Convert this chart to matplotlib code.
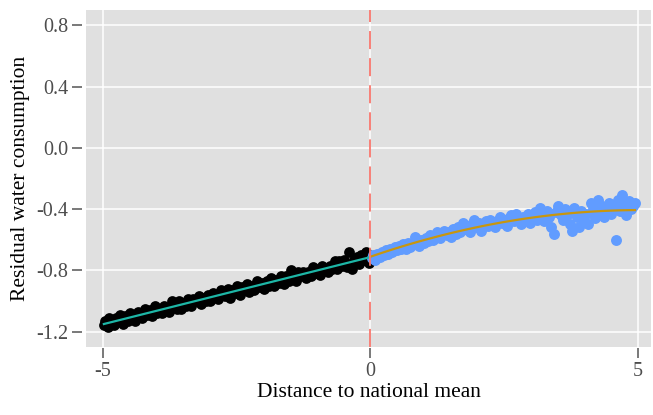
import numpy as np
import matplotlib.pyplot as plt

# points below the national mean (black)
x_below = [-4.98, -4.95, -4.91, -4.88, -4.84, -4.80, -4.76, -4.71, -4.67, -4.62,
           -4.58, -4.53, -4.49, -4.44, -4.40, -4.35, -4.31, -4.26, -4.22, -4.17,
           -4.12, -4.08, -4.03, -3.99, -3.94, -3.90, -3.85, -3.81, -3.76, -3.71,
           -3.67, -3.62, -3.58, -3.53, -3.49, -3.44, -3.40, -3.35, -3.31, -3.26,
           -3.21, -3.17, -3.12, -3.08, -3.03, -2.99, -2.94, -2.90, -2.85, -2.80,
           -2.76, -2.71, -2.67, -2.62, -2.58, -2.53, -2.49, -2.44, -2.40, -2.35,
           -2.31, -2.26, -2.21, -2.17, -2.12, -2.08, -2.03, -1.99, -1.94, -1.90,
           -1.85, -1.80, -1.76, -1.71, -1.67, -1.62, -1.58, -1.53, -1.49, -1.44,
           -1.40, -1.35, -1.31, -1.26, -1.21, -1.17, -1.12, -1.08, -1.03, -0.99,
           -0.94, -0.90, -0.85, -0.80, -0.76, -0.71, -0.67, -0.62, -0.58, -0.53,
           -0.49, -0.44, -0.40, -0.35, -0.31, -0.26, -0.22, -0.17, -0.13, -0.08,
           -0.04, -0.02]
y_below = [-1.16, -1.13, -1.17, -1.11, -1.14, -1.16, -1.11, -1.13, -1.09, -1.15,
           -1.10, -1.13, -1.08, -1.11, -1.13, -1.07, -1.09, -1.11, -1.05, -1.09,
           -1.06, -1.10, -1.03, -1.08, -1.05, -1.08, -1.03, -1.05, -1.07, -1.00,
           -1.03, -1.05, -1.00, -1.05, -1.01, -1.03, -0.99, -1.03, -0.99, -1.00,
           -0.97, -1.02, -0.98, -1.00, -0.96, -1.00, -0.95, -0.97, -0.99, -0.93,
           -0.95, -0.97, -0.92, -0.98, -0.93, -0.95, -0.90, -0.96, -0.91, -0.93,
           -0.89, -0.94, -0.90, -0.93, -0.87, -0.91, -0.88, -0.92, -0.87, -0.90,
           -0.85, -0.90, -0.86, -0.88, -0.84, -0.89, -0.84, -0.87, -0.80, -0.83,
           -0.87, -0.81, -0.84, -0.81, -0.85, -0.81, -0.84, -0.78, -0.82, -0.79,
           -0.83, -0.77, -0.79, -0.81, -0.77, -0.79, -0.74, -0.79, -0.74, -0.77,
           -0.73, -0.78, -0.68, -0.79, -0.73, -0.71, -0.76, -0.70, -0.73, -0.68,
           -0.71, -0.75]

# points above the national mean (blue)
x_above = [0.02, 0.05, 0.09, 0.13, 0.17, 0.21, 0.25, 0.29, 0.33, 0.37,
           0.41, 0.45, 0.49, 0.53, 0.57, 0.61, 0.66, 0.70, 0.74, 0.78,
           0.83, 0.87, 0.91, 0.95, 1.00, 1.04, 1.08, 1.12, 1.17, 1.21,
           1.25, 1.30, 1.34, 1.38, 1.42, 1.47, 1.51, 1.55, 1.60, 1.64,
           1.68, 1.73, 1.77, 1.81, 1.86, 1.90, 1.94, 1.98, 2.03, 2.07,
           2.11, 2.16, 2.20, 2.24, 2.29, 2.33, 2.37, 2.42, 2.46, 2.50,
           2.55, 2.59, 2.63, 2.68, 2.72, 2.76, 2.81, 2.85, 2.89, 2.94,
           2.98, 3.02, 3.07, 3.11, 3.16, 3.20, 3.24, 3.29, 3.33, 3.37,
           3.42, 3.46, 3.50, 3.55, 3.59, 3.63, 3.68, 3.72, 3.76, 3.81,
           3.85, 3.89, 3.94, 3.98, 4.02, 4.07, 4.11, 4.15, 4.20, 4.24,
           4.28, 4.33, 4.37, 4.41, 4.46, 4.50, 4.55, 4.58, 4.62, 4.66,
           4.70, 4.74, 4.78, 4.82, 4.86, 4.90, 4.94]
y_above = [-0.72, -0.70, -0.73, -0.69, -0.71, -0.68, -0.70, -0.67, -0.69, -0.66,
           -0.68, -0.65, -0.67, -0.64, -0.66, -0.63, -0.66, -0.62, -0.65, -0.63,
           -0.58, -0.61, -0.64, -0.60, -0.62, -0.59, -0.61, -0.57, -0.60, -0.58,
           -0.55, -0.59, -0.56, -0.54, -0.57, -0.55, -0.58, -0.53, -0.56, -0.52,
           -0.55, -0.49, -0.53, -0.51, -0.55, -0.50, -0.47, -0.52, -0.49, -0.54,
           -0.50, -0.48, -0.51, -0.47, -0.50, -0.52, -0.48, -0.45, -0.49, -0.47,
           -0.51, -0.46, -0.44, -0.48, -0.43, -0.46, -0.50, -0.45, -0.47, -0.43,
           -0.49, -0.45, -0.42, -0.47, -0.39, -0.44, -0.48, -0.41, -0.45, -0.52,
           -0.56, -0.42, -0.38, -0.44, -0.47, -0.40, -0.43, -0.50, -0.54, -0.39,
           -0.45, -0.52, -0.41, -0.48, -0.43, -0.50, -0.36, -0.40, -0.46, -0.34,
           -0.42, -0.38, -0.45, -0.40, -0.36, -0.43, -0.38, -0.60, -0.34, -0.41,
           -0.31, -0.37, -0.44, -0.35, -0.40, -0.38, -0.36]

xticks = [-5, 0, 5]
yticks = [0.8, 0.4, 0.0, -0.4, -0.8, -1.2]

plt.rcParams['font.family'] = ['Liberation Serif', 'DejaVu Serif']

fig = plt.figure(figsize=(6.53, 4.15), dpi=100)
ax = fig.add_axes([0.132, 0.164, 0.865, 0.812])
ax.set_facecolor('#E0E0E0')
ax.grid(True, color='white', linewidth=1.1, zorder=0)
ax.set_axisbelow(True)

ax.scatter(x_below, y_below, s=60, color='black', linewidths=0, zorder=2)
ax.scatter(x_above, y_above, s=62, color='#619CFF', linewidths=0, zorder=2)

# fitted lines
xb = np.array(x_below)
fb = np.polyfit(xb, y_below, 1)
xs = np.linspace(xb.min(), xb.max(), 100)
ax.plot(xs, np.polyval(fb, xs), color='#1DB6A6', linewidth=1.6, zorder=3)

xa = np.array(x_above)
fa = np.polyfit(xa, y_above, 2)
xs = np.linspace(xa.min(), xa.max(), 100)
ax.plot(xs, np.polyval(fa, xs), color='#C8960E', linewidth=1.6, zorder=3)

ax.axvline(0, color='#F8766D', linewidth=1.3, dashes=(10, 5), zorder=4)

ax.set_xlim(-5.31, 5.24)
ax.set_ylim(-1.30, 0.90)
ax.set_xticks(xticks)
ax.set_xticklabels(['-5', '0', '5'])
ax.set_yticks(yticks)
ax.set_yticklabels(['0.8', '0.4', '0.0', '-0.4', '-0.8', '-1.2'])

for s in ax.spines.values():
    s.set_visible(False)
ax.spines['left'].set_position(('outward', 3))
ax.spines['bottom'].set_position(('outward', 1))
ax.tick_params(length=7, width=1.1, color='#555555', labelcolor='#4D4D4D',
               labelsize=14.5, pad=3)

ax.set_xlabel('Distance to national mean', fontsize=15.5, labelpad=1)
ax.set_ylabel('Residual water consumption', fontsize=15.5, labelpad=4)

fig.savefig('out.png', dpi=100)
